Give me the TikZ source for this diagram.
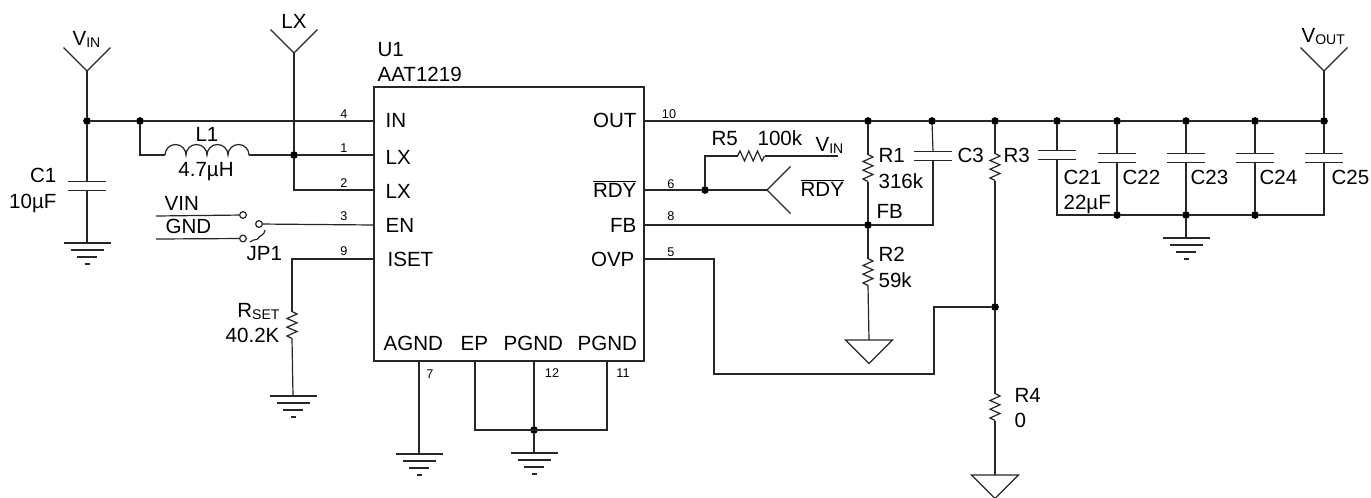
\documentclass[tikz,border=0pt]{standalone}
\usepackage{fontspec}
\setmainfont{Liberation Sans}

\newcommand{\txtbig}{\fontsize{15.4}{15.4}\selectfont}
\newcommand{\txtsub}{\fontsize{10.5}{10.5}\selectfont}
\newcommand{\txtpin}{\fontsize{9.5}{9.5}\selectfont}
\newcommand{\overbar}[1]{$\overline{\mbox{#1}}$}

\tikzset{every picture/.style={line width=0.9pt}}
\tikzset{
  lab/.style={anchor=base west,inner sep=0pt,font=\txtbig},
  labr/.style={anchor=base east,inner sep=0pt,font=\txtbig},
  labc/.style={anchor=base,inner sep=0pt,font=\txtbig},
  pinno/.style={anchor=base,inner sep=0pt,font=\txtpin},
  wire/.style={draw=black!85},
  junction/.style={circle,fill=black,inner sep=0pt,minimum size=5.8pt},
  term/.style={circle,draw=black!85,fill=white,inner sep=0pt,minimum size=5pt},
  % inside a pic the y axis points up the page
  resv/.pic={
    \draw[wire] (0,13.5) -- (5,11) -- (-5,6.5) -- (5,2.2) -- (-5,-2.2) -- (5,-6.5) -- (-5,-11) -- (0,-13.5);
    \coordinate (-a) at (0,13.5);
    \coordinate (-b) at (0,-13.5);
  },
  capv/.pic={
    \draw[wire] (-19,4.7) -- (19,4.7) (-19,-4.7) -- (19,-4.7);
    \coordinate (-a) at (0,4.7);
    \coordinate (-b) at (0,-4.7);
  },
  gnd/.pic={
    \draw[wire] (-23.5,0) -- (23.5,0) (-16.5,-7) -- (16.5,-7) (-10,-14) -- (10,-14) (-2.5,-21) -- (2.5,-21);
    \coordinate (-top) at (0,0);
  },
  tri/.pic={
    \draw[wire] (-23.5,0) -- (23.5,0) -- (0,-23.5) -- cycle;
    \coordinate (-top) at (0,0);
  },
  fork/.pic={
    \draw[wire] (-23.5,23.5) -- (0,0) -- (23.5,23.5);
    \coordinate (-tip) at (0,0);
  },
}

\begin{document}
\begin{tikzpicture}[x=0.75pt,y=0.75pt,yscale=-1,xscale=1]
        \useasboundingbox (0,0) rectangle (1371,497);

        %Shape: U1 body
        \draw[wire] (374,87) rectangle (644,361);

        % Pins and junctions
        \coordinate (pinin) at (374,121);
        \coordinate (pinlxa) at (374,155);
        \coordinate (pinlxb) at (374,190);
        \coordinate (pinen) at (374,225);
        \coordinate (piniset) at (374,259);
        \coordinate (pinout) at (644,121);
        \coordinate (pinrdy) at (644,190);
        \coordinate (pinfb) at (644,225);
        \coordinate (pinovp) at (644,259);
        \coordinate (pinagnd) at (419,361);
        \coordinate (pinep) at (475,361);
        \coordinate (pinpgnda) at (534,361);
        \coordinate (pinpgndb) at (607,361);
        \coordinate (cornlxb) at (294,190);
        \coordinate (cornl) at (140,155);
        \coordinate (cornset) at (292,259);
        \coordinate (cornrfive) at (705,156);
        \coordinate (cornfb) at (933,225);
        \coordinate (cornepa) at (475,430);
        \coordinate (cornepb) at (607,430);
        \coordinate (cornovpa) at (714,259);
        \coordinate (cornovpb) at (714,374);
        \coordinate (cornovpc) at (934,374);
        \coordinate (cornovpd) at (934,307);
        \coordinate (endrfive) at (838,156);
        \coordinate (lina) at (156,216);
        \coordinate (linb) at (156,239);
        \node[junction] (jvin) at (87,121) {};
        \node[junction] (jl) at (140,121) {};
        \node[junction] (jlx) at (294,155) {};
        \node[junction] (jrdy) at (705,190) {};
        \node[junction] (jra) at (868,121) {};
        \node[junction] (jca) at (932,121) {};
        \node[junction] (jrc) at (995,121) {};
        \node[junction] (jcb) at (1057,121) {};
        \node[junction] (jcc) at (1117,121) {};
        \node[junction] (jcd) at (1186,121) {};
        \node[junction] (jce) at (1255,121) {};
        \node[junction] (jcf) at (1324,121) {};
        \node[junction] (jfb) at (868,225) {};
        \node[junction] (jovp) at (995,307) {};
        \node[junction] (jep) at (534,430) {};
        \node[junction] (jbusa) at (1117,215) {};
        \node[junction] (jbusb) at (1186,215) {};
        \node[junction] (jbusc) at (1255,215) {};
        \coordinate (cornbusa) at (1057,215);
        \coordinate (cornbusb) at (1324,215);

        % Switch terminals
        \node[term] (swa) at (243,215) {};
        \node[term] (swb) at (243,238.5) {};
        \node[term] (swc) at (259,224) {};

        %Shape: parts
        \pic (fvin) at (87,71) {fork};
        \pic (flx) at (294,53) {fork};
        \pic (fvout) at (1324,71) {fork};
        \pic[rotate=-90] (frdy) at (767,190) {fork};
        \pic (cone) at (87,186) {capv};
        \pic (cthree) at (933,156) {capv};
        \pic (ctwoone) at (1057,155) {capv};
        \pic (ctwotwo) at (1117,158) {capv};
        \pic (ctwothree) at (1186,158) {capv};
        \pic (ctwofour) at (1255,158) {capv};
        \pic (ctwofive) at (1324,158) {capv};
        \pic (rset) at (292,325) {resv};
        \pic (rone) at (868,168) {resv};
        \pic (rtwo) at (868,272) {resv};
        \pic (rthree) at (995,167) {resv};
        \pic (rfour) at (995,407) {resv};
        \pic[rotate=90] (rfive) at (751,156) {resv};
        \pic (gone) at (87,243) {gnd};
        \pic (gset) at (293,396) {gnd};
        \pic (gagnd) at (419,454) {gnd};
        \pic (gep) at (534,453) {gnd};
        \pic (gbus) at (1186,238) {gnd};
        \pic (ttwo) at (869,340) {tri};
        \pic (tfour) at (995,475) {tri};

        %Shape: L1 coil
        \draw[wire] (165,155) coordinate (la) arc (180:360:10.5) arc (180:360:10.5) arc (180:360:10.5) arc (180:360:10.5) coordinate (lb);

        %Straight Lines
        \draw[wire] (fvin-tip) -- (jvin);
        \draw[wire] (jvin) -- (jl) -- (pinin);
        \draw[wire] (jvin) -- (cone-a);
        \draw[wire] (cone-b) -- (gone-top);
        \draw[wire] (jl) -- (cornl) -- (la);
        \draw[wire] (lb) -- (jlx) -- (pinlxa);
        \draw[wire] (flx-tip) -- (jlx) -- (cornlxb) -- (pinlxb);
        \draw[wire] (lina) -- (swa);
        \draw[wire] (linb) -- (swb);
        \draw[wire] (swc) -- (pinen);
        \draw[wire] (piniset) -- (cornset) -- (rset-a);
        \draw[wire] (rset-b) -- (gset-top);
        \draw[wire] (pinagnd) -- (gagnd-top);
        \draw[wire] (pinep) -- (cornepa) -- (cornepb) -- (pinpgndb);
        \draw[wire] (pinpgnda) -- (jep) -- (gep-top);
        \draw[wire] (pinout) -- (jra) -- (jca) -- (jrc) -- (jcb) -- (jcc) -- (jcd) -- (jce) -- (jcf);
        \draw[wire] (jcf) -- (fvout-tip);
        \draw[wire] (pinrdy) -- (jrdy) -- (frdy-tip);
        \draw[wire] (jrdy) -- (cornrfive) -- (rfive-a);
        \draw[wire] (rfive-b) -- (endrfive);
        \draw[wire] (jra) -- (rone-a);
        \draw[wire] (rone-b) -- (jfb) -- (rtwo-a);
        \draw[wire] (rtwo-b) -- (ttwo-top);
        \draw[wire] (pinfb) -- (jfb) -- (cornfb) -- (cthree-b);
        \draw[wire] (jca) -- (cthree-a);
        \draw[wire] (jrc) -- (rthree-a);
        \draw[wire] (rthree-b) -- (jovp) -- (rfour-a);
        \draw[wire] (rfour-b) -- (tfour-top);
        \draw[wire] (pinovp) -- (cornovpa) -- (cornovpb) -- (cornovpc) -- (cornovpd) -- (jovp);
        \draw[wire] (jcb) -- (ctwoone-a);
        \draw[wire] (jcc) -- (ctwotwo-a);
        \draw[wire] (jcd) -- (ctwothree-a);
        \draw[wire] (jce) -- (ctwofour-a);
        \draw[wire] (jcf) -- (ctwofive-a);
        \draw[wire] (ctwoone-b) -- (cornbusa) -- (jbusa) -- (jbusb) -- (jbusc) -- (cornbusb) -- (ctwofive-b);
        \draw[wire] (ctwotwo-b) -- (jbusa);
        \draw[wire] (ctwothree-b) -- (jbusb);
        \draw[wire] (ctwofour-b) -- (jbusc);
        \draw[wire] (jbusb) -- (gbus-top);
        %Shape: JP1 wiper
        \draw[wire] (265,230) .. controls (264,236) and (261,234) .. (259,237) .. controls (258,241) and (255,238) .. (250,242);

        % Text Node
        \node[lab] (tvin) at (72,45) {V\raisebox{-2.2pt}{\txtsub IN}};
        \node[labc] (tlx) at (294,28) {LX};
        \node[lab] (tvout) at (1301,42) {V\raisebox{-2.2pt}{\txtsub OUT}};
        \node[lab] (tuone) at (377,56) {U1};
        \node[lab] (tic) at (377,81) {AAT1219};
        \node[lab] (tin) at (385,127) {IN};
        \node[lab] (tlxa) at (385,164) {LX};
        \node[lab] (tlxb) at (385,198) {LX};
        \node[lab] (ten) at (385,232) {EN};
        \node[lab] (tiset) at (387,266) {ISET};
        \node[lab] (tagnd) at (383,350) {AGND};
        \node[lab] (tep) at (460,350) {EP};
        \node[lab] (tpgnda) at (503,350) {PGND};
        \node[lab] (tpgndb) at (577,350) {PGND};
        \node[labr] (tout) at (637,127) {OUT};
        \node[labr] (trdy) at (637,197) {\overbar{RDY}};
        \node[labr] (tfb) at (637,232) {FB};
        \node[labr] (tovp) at (635,266) {OVP};
        \node[labc] (tlone) at (207,141) {L1};
        \node[labc] (tlval) at (206,176) {4.7µH};
        \node[labr] (tcone) at (57,182) {C1};
        \node[labr] (tcval) at (57,208) {10µF};
        \node[lab] (tswa) at (164,210) {VIN};
        \node[lab] (tswb) at (165,233) {GND};
        \node[lab] (tjp) at (246,260) {JP1};
        \node[labr] (trset) at (280,317) {R\raisebox{-2.2pt}{\txtsub SET}};
        \node[labr] (trval) at (280,342) {40.2K};
        \node[lab] (trfive) at (711,145) {R5};
        \node[lab] (trfval) at (757,145) {100k};
        \node[lab] (trvin) at (815,151) {V\raisebox{-2.2pt}{\txtsub IN}};
        \node[lab] (trdyb) at (800,196) {\overbar{RDY}};
        \node[lab] (trone) at (878,162) {R1};
        \node[lab] (trona) at (878,188) {316k};
        \node[lab] (tfbb) at (876,218) {FB};
        \node[lab] (tcthree) at (957,162) {C3};
        \node[lab] (trtwo) at (878,261) {R2};
        \node[lab] (trtwoa) at (878,287) {59k};
        \node[lab] (trthree) at (1003,162) {R3};
        \node[lab] (trfour) at (1014,402) {R4};
        \node[lab] (trfoura) at (1014,427) {0};
        \node[lab] (tctwoone) at (1063,184) {C21};
        \node[lab] (tctwoval) at (1063,209) {22µF};
        \node[lab] (tctwotwo) at (1122,184) {C22};
        \node[lab] (tctwothree) at (1190,184) {C23};
        \node[lab] (tctwofour) at (1259,184) {C24};
        \node[lab] (tctwofive) at (1331,184) {C25};

        % Text Node
        \node[pinno] (nfour) at (344,118) {4};
        \node[pinno] (none) at (344,152) {1};
        \node[pinno] (ntwo) at (344,187) {2};
        \node[pinno] (nthree) at (344,220) {3};
        \node[pinno] (nnine) at (344,255) {9};
        \node[pinno] (nten) at (669,118) {10};
        \node[pinno] (nsix) at (671,188) {6};
        \node[pinno] (neight) at (671,220) {8};
        \node[pinno] (nfive) at (671,256) {5};
        \node[pinno] (nseven) at (430,378) {7};
        \node[pinno] (ntwelve) at (552,377) {12};
        \node[pinno] (neleven) at (623,377) {11};
\end{tikzpicture}
\end{document}
